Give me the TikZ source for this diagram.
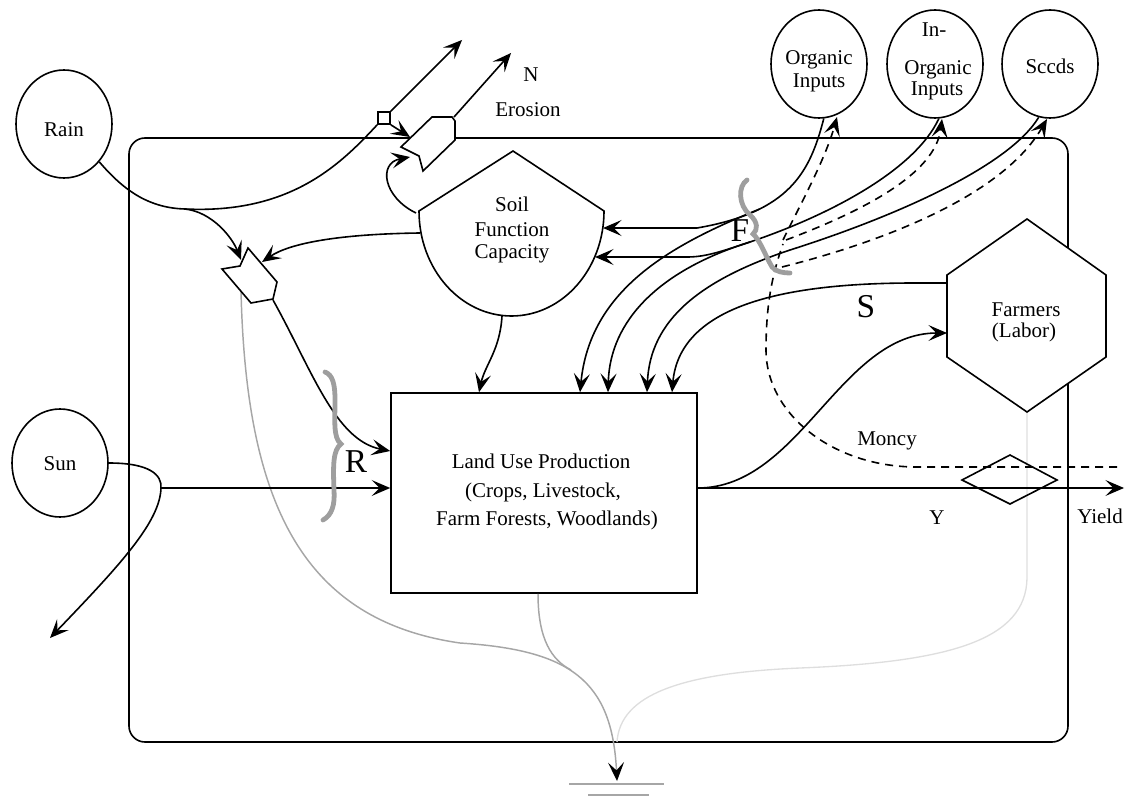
\documentclass[tikz,border=0pt]{standalone}
\usepackage{fontspec}
\setmainfont{Liberation Serif}
\usetikzlibrary{arrows.meta,shapes.geometric}
\begin{document}
\begin{tikzpicture}[x=0.75pt,y=-0.75pt,
  ln/.style={line width=1.2pt},
  arrtip/.style={-{Stealth[length=14pt,width=12pt,inset=6pt]}},
  arr/.style={ln,arrtip},
  dsh/.style={line width=1.2pt,dash pattern=on 6pt off 4.5pt},
  brc/.style={line width=3.6pt,color=black!38,line cap=round},
  sinkln/.style={line width=1.1pt,color=black!35},
  sinklt/.style={line width=1pt,color=black!13},
  txt/.style={font=\fontsize{15.75}{18}\selectfont,inner sep=0pt,anchor=base},
  big/.style={font=\fontsize{25}{28}\selectfont,inner sep=0pt,anchor=base},
  src/.style={draw,ellipse,ln,minimum width=72pt,minimum height=81pt,inner sep=0pt}
]
\useasboundingbox (0,0) rectangle (1126,805);

% frame
\node[draw,ln,rounded corners=12pt,minimum width=704.25pt,minimum height=453pt,inner sep=0pt] (frame) at (598.5,440) {};

% heat sink flows
\draw[sinkln,-{Stealth[length=14pt,width=12pt,inset=6pt,color=black]}] (241,291) .. controls (246,500) and (300,620) .. (460,643) .. controls (570,650) and (612,680) .. (617,781);
\draw[sinklt] (1027,412) -- (1027,578) .. controls (1026,640) and (950,662) .. (800,668) .. controls (680,673) and (620,695) .. (617,742);
\draw[sinkln] (569,784) -- (664,784);
\draw[sinkln] (588,795) -- (649,795);

% sources
\node[src] (rain) at (64,124) {};
\node[txt] (raint) at (64,137) {Rain};
\node[src] (sun) at (60,463) {};
\node[txt] (sunt) at (60,470) {Sun};
\node[src] (org) at (819,64) {};
\node[txt] (orgt1) at (819,65) {Organic};
\node[txt] (orgt2) at (819,88) {Inputs};
\node[src] (inorg) at (935,64) {};
\node[txt] (inorgt0) at (934,37) {In-};
\node[txt] (inorgt1) at (938,75) {Organic};
\node[txt] (inorgt2) at (937,96) {Inputs};
\node[src] (seeds) at (1050,64) {};
\node[txt] (seedst) at (1050,74) {Sccds};

% land use production
\node[draw,ln,fill=white,minimum width=229.5pt,minimum height=150pt,inner sep=0pt] (land) at (544,493) {};
\draw[sinkln] ([xshift=-4.5pt]land.south) .. controls (538,640) and (552,660) .. (571,670);
\node[txt] (land1) at (541,468) {Land Use Production};
\node[txt] (land2) at (543,497) {(Crops, Livestock,};
\node[txt] (land3) at (547,525) {Farm Forests, Woodlands)};

% soil function capacity
\draw[ln,fill=white] (419,211) -- (513,151) -- (604,211) .. controls (604,269) and (562.6,316) .. (511.5,316) .. controls (460.4,316) and (419,269) .. cycle;
\coordinate (soilTL) at (416,213);
\coordinate (soilL) at (420,233);
\coordinate (soilR1) at (603,228);
\coordinate (soilR2) at (595,257);
\coordinate (soilB) at (502,316);
\node[txt] (soil1) at (512,212) {Soil};
\node[txt] (soil2) at (512,237) {Function};
\node[txt] (soil3) at (512,258) {Capacity};

% farmers
\draw[ln,fill=white] (1027,219) -- (1106,275) -- (1106,357) -- (1027,412) -- (947,357) -- (947,275) -- cycle;
\coordinate (farmS) at (947,283);
\coordinate (farmIn) at (947,333);
\node[txt] (far1) at (1026,316) {Farmers};
\node[txt] (far2) at (1024,337) {(Labor)};

% diamond
\draw[ln] (962,480) -- (1010,455) -- (1057,480) -- (1010,504) -- cycle;

% valves
\draw[ln,fill=white] (401,147) -- (432,117) -- (452,117) -- (455,121) -- (455,140) -- (423,171) -- (419,156) -- cycle;
\draw[ln,fill=white] (222,269) -- (240,266) -- (248,248) -- (277,282) -- (273,299) -- (251,303) -- cycle;
\node[draw,ln,fill=white,minimum size=9pt,inner sep=0pt] (sq) at (384,118) {};

% rain
\coordinate (rb) at (185,209);
\draw[ln] (rain.-47) .. controls (125,192) and (150,208) .. (rb);
\draw[ln] (rb) .. controls (290,214) and (340,165) .. (sq.south west);
\draw[arr] (rb) .. controls (212,212) and (232,237) .. (241,260);
\draw[arr] (sq.north east) -- (462,40);
\draw[arr] (sq.south east) -- (410,137);
\draw[arr] (454,117) -- (511,53);
\draw[arr] (soilTL) .. controls (383,197) and (378,163) .. (410,157);
\draw[arr] (soilL) .. controls (340,234) and (290,243) .. (262,262);
\draw[arr] (273,300) .. controls (312,370) and (335,440) .. ([yshift=31.5pt]land.west);

% sun
\coordinate (sl) at (161,488);
\draw[ln] (sun.east) .. controls (150,463) and (162,475) .. (sl);
\draw[arr] (sl) .. controls (160,522) and (120,565) .. (50,638);
\draw[arr] (sl) -- ([yshift=3.75pt]land.west);

% soil to land
\draw[arr] (soilB) .. controls (500,350) and (485,365) .. ([xshift=-48.75pt]land.north);

% inputs
\draw[arr] (org.-85) .. controls (810,172) and (790,212) .. (697,228) coordinate[pos=0.72] (obr) -- (soilR1);
\draw[arr] (obr) .. controls (670,245) and (590,290) .. ([xshift=27pt]land.north);
\draw[arr] (inorg.-86) .. controls (915,170) and (830,215) .. (750,242) coordinate (ibr) .. controls (660,270) and (610,320) .. ([xshift=48pt]land.north);
\draw[arr] (ibr) .. controls (720,252) and (705,257) .. (687,257) -- (soilR2);
\draw[arr] (seeds.-102) .. controls (1010,165) and (900,215) .. (790,250) .. controls (700,280) and (650,320) .. ([xshift=77.25pt]land.north);
\draw[arr] (farmS) -- (915,283) .. controls (800,283) and (680,300) .. ([xshift=96pt]land.north);

% outputs
\draw[arr] ([yshift=3.75pt]land.east) .. controls (800,488) and (840,333) .. (farmIn);
\draw[arr] ([yshift=3.75pt]land.east) -- (1124,488) coordinate (yieldend);

% money
\coordinate (mj) at (783,244);
\draw[dsh] (1117,467) -- (917,467) .. controls (833.6,467) and (766,414.6) .. (766,350) .. controls (766,305) and (772,275) .. (mj);
\draw[dsh,arrtip] (782,267) .. controls (870,245) and (1000,200) .. (1047,119);
\draw[dsh,arrtip] (786,240) .. controls (860,212) and (935,175) .. (942,119);
\draw[dsh,arrtip] (783,240) .. controls (800,205) and (825,160) .. (837,117);

% braces
\draw[brc] (747,180) .. controls (738,186) and (738,205) .. (750,215) .. controls (758,222) and (758,230) .. (753,234) .. controls (760,240) and (765,255) .. (772,267) .. controls (776,272) and (784,273) .. (790,273);
\draw[brc] (325,372) .. controls (333,375) and (335,385) .. (335,400) .. controls (335,420) and (333,438) .. (341,444) .. controls (333,450) and (333,465) .. (334,490) .. controls (335,505) and (332,515) .. (323,520);

% labels
\node[txt] (nlab) at (531,82) {N};
\node[txt] (erolab) at (528,117) {Erosion};
\node[big] (flab) at (740,242) {F};
\node[big] (slab) at (866,317) {S};
\node[big] (rlab) at (356,472) {R};
\node[txt] (mlab) at (887,445) {Moncy};
\node[txt] (ylab) at (937,524) {Y};
\node[txt] (yieldlab) at (1100,523) {Yield};
\end{tikzpicture}
\end{document}
